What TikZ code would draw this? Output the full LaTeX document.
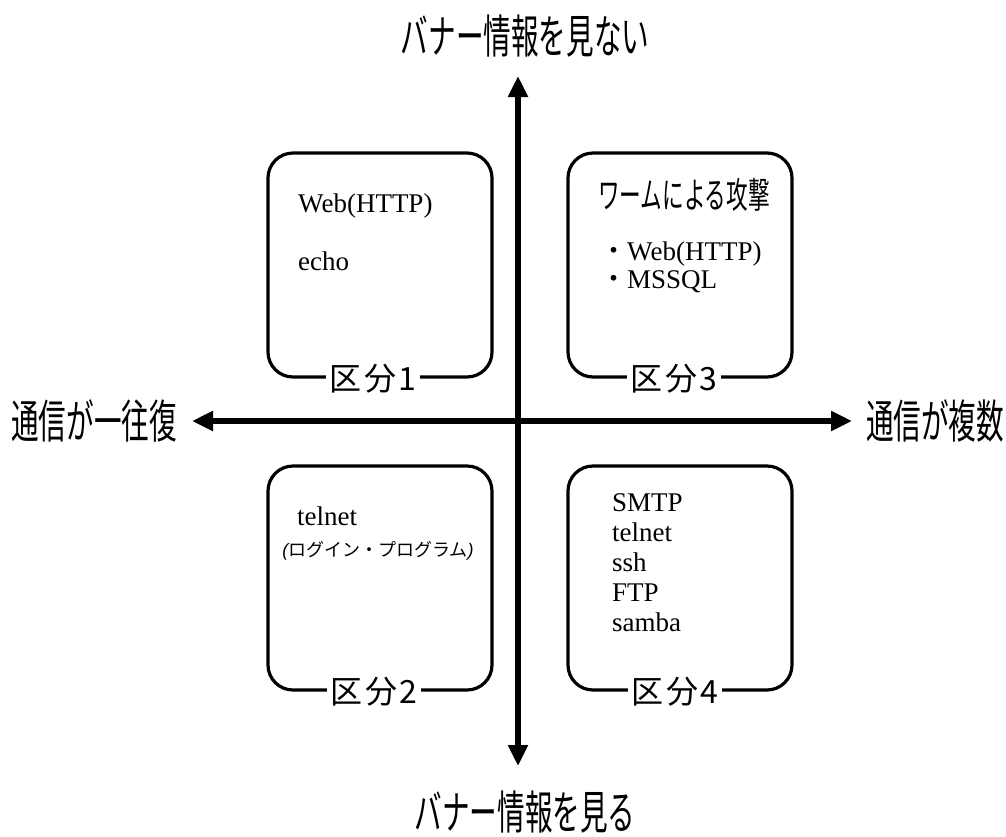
\documentclass[tikz,border=0pt]{standalone}
\usepackage{fontspec}
\setmainfont{Liberation Serif}
\newfontfamily\jp{Noto Sans CJK JP}
\newfontfamily\jpn[FakeStretch=0.6]{Noto Sans CJK JP}
\newfontfamily\sfit{Liberation Sans}
\usetikzlibrary{arrows.meta}
\begin{document}
\begin{tikzpicture}[x=1pt,y=-1pt,
  axis/.style={line width=6.5pt,{Triangle[width=19pt,length=21pt]}-{Triangle[width=19pt,length=21pt]}},
  axlabel/.style={font=\jpn\fontsize{46}{46}\selectfont,inner sep=0pt},
  quad/.style={draw,line width=3.2pt,rounded corners=25pt,minimum width=224pt,minimum height=224pt,inner sep=0pt},
  qlabel/.style={fill=white,font=\jp\fontsize{32}{32}\selectfont,inner xsep=4pt,inner ysep=1pt},
  item/.style={anchor=base west,inner sep=0pt,font=\fontsize{27}{27}\selectfont}]
\useasboundingbox (0,0) rectangle (1006,836);
% axes
\coordinate (T) at (518,76);
\coordinate (B) at (518,766);
\coordinate (L) at (192,421);
\coordinate (R) at (852,421);
\draw[axis] (B) -- (T);
\draw[axis] (L) -- (R);
\node[axlabel] (top) at (525,36) {バナー情報を見ない};
\node[axlabel] (bot) at (525,812) {バナー情報を見る};
\node[axlabel] (lft) at (94,421) {通信が一往復};
\node[axlabel] (rgt) at (935,421) {通信が複数};
% quadrants
\node[quad] (q1) at (380,265) {};
\node[quad] (q3) at (680,265) {};
\node[quad] (q2) at (380,578) {};
\node[quad] (q4) at (680,578) {};
\node[qlabel] (l1) at ([xshift=-7pt]q1.south) {区\kern3pt分\kern2pt1};
\node[qlabel] (l3) at ([xshift=-6pt]q3.south) {区\kern3pt分\kern2pt3};
\node[qlabel] (l2) at ([xshift=-6pt]q2.south) {区\kern3pt分\kern2pt2};
\node[qlabel] (l4) at ([xshift=-5pt]q4.south) {区\kern3pt分\kern2pt4};
% box 1
\node[item] (w1) at (298,212) {Web(HTTP)};
\node[item] (e1) at (298,270) {echo};
% box 3
\node[inner sep=0pt,font=\jpn\fontsize{36}{36}\selectfont] (t3) at (684,195) {ワームによる攻撃};
\node[item] (w3) at (600,260) {{\jp ・}Web(HTTP)};
\node[item] (m3) at (600,288) {{\jp ・}MSSQL};
% box 2
\node[item] (t2) at (297,525) {telnet};
\node[inner sep=0pt,font=\jp\fontsize{18}{18}\selectfont] (p2) at (378,551) {{\sfit\itshape(}ログイン・プログラム{\sfit\itshape)}};
% box 4
\node[item] (s4) at (612,511) {SMTP};
\node[item] (te4) at (612,541) {telnet};
\node[item] (ss4) at (612,571) {ssh};
\node[item] (f4) at (612,601) {FTP};
\node[item] (sa4) at (612,631) {samba};
\end{tikzpicture}
\end{document}
